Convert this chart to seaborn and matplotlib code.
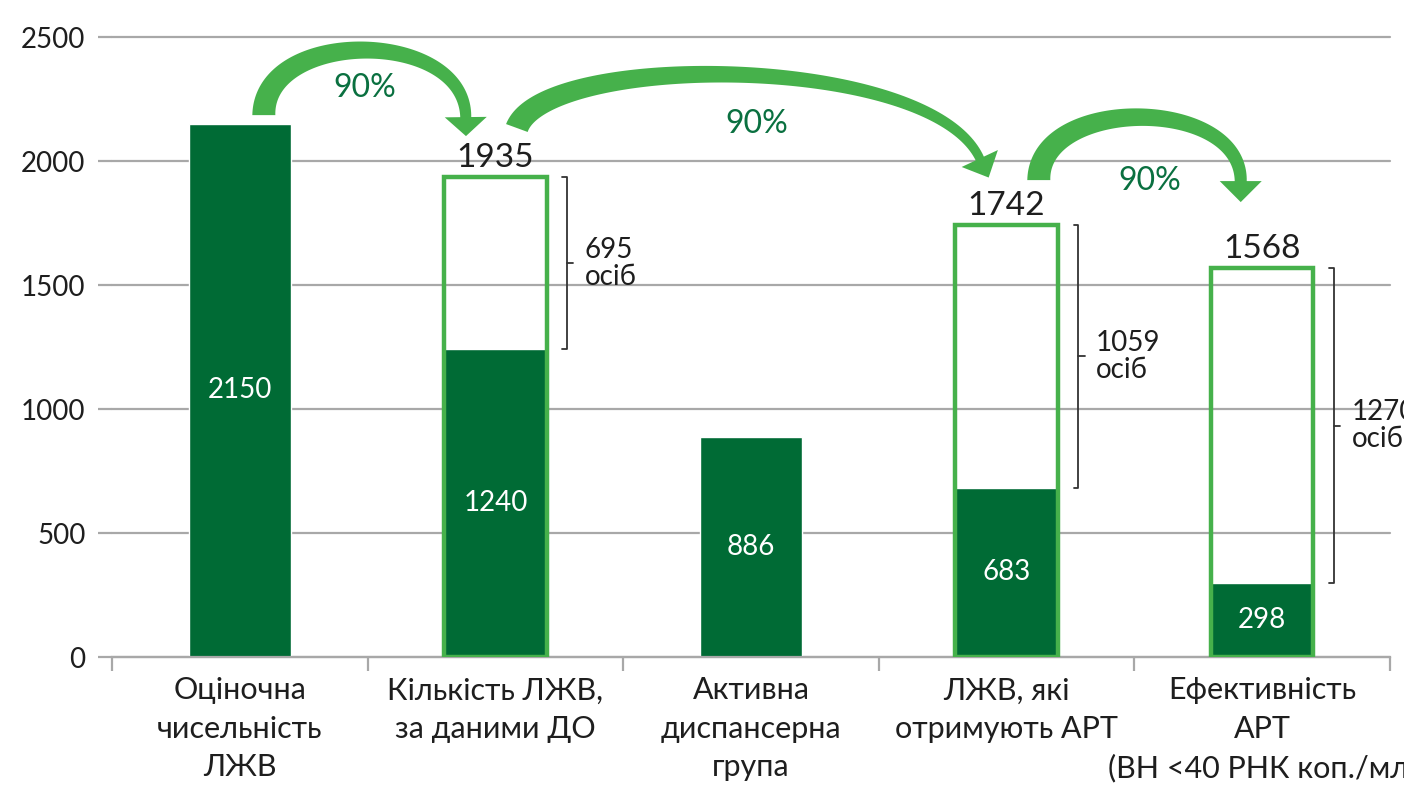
import numpy as np
import pandas as pd
import matplotlib
matplotlib.use("Agg")
import matplotlib.pyplot as plt
from matplotlib.patches import Polygon
from matplotlib.transforms import IdentityTransform
import seaborn as sns

# ---------------- data ----------------
categories = [
    "Оціночна\nчисельність\nЛЖВ",
    "Кількість ЛЖВ,\nза даними ДО",
    "Активна\nдиспансерна\nгрупа",
    "ЛЖВ, які\nотримують АРТ",
    "Ефективність\nАРТ\n(ВН <40 РНК коп./мл)",
]
filled_values = [2150, 1240, 886, 683, 298]
outline_categories = [categories[1], categories[3], categories[4]]
outline_values = [1935, 1742, 1568]
gap_labels = ["695\nосіб", "1059\nосіб", "1270\nосіб"]
arrow_labels = ["90%", "90%", "90%"]

DARK = "#006B35"
LIGHT = "#46B14B"
PCT = "#0A7040"
GRID = "#A8A8A8"
TEXT = "#1E1E1E"

sns.set_theme(style="white")
plt.rcParams["font.family"] = ["Lato", "DejaVu Sans"]

fig = plt.figure(figsize=(14.04, 7.89), dpi=100)
ax = fig.add_axes([112 / 1404, 1 - 657 / 789, (1390 - 112) / 1404, (657 - 37) / 789])

df_f = pd.DataFrame({"cat": categories, "val": filled_values})
df_o = pd.DataFrame({"cat": outline_categories, "val": outline_values})

sns.barplot(data=df_f, x="cat", y="val", order=categories, color=DARK,
            saturation=1, width=0.4, ax=ax, zorder=2)
sns.barplot(data=df_o, x="cat", y="val", order=categories, color=LIGHT,
            saturation=1, width=0.4, fill=False, linewidth=3.2, ax=ax, zorder=3)

ax.set_xlim(-0.5, 4.5)
ax.set_ylim(0, 2500)
ax.set_xlabel("")
ax.set_ylabel("")

# value labels
ax.bar_label(ax.containers[0], fmt="{:.0f}", label_type="center",
             color="white", fontsize=20)
ax.bar_label(ax.containers[1], fmt="{:.0f}", padding=3,
             color=TEXT, fontsize=24)

# axes styling
for s in ["left", "top", "right"]:
    ax.spines[s].set_visible(False)
ax.spines["bottom"].set_color(GRID)
ax.spines["bottom"].set_linewidth(1.6)
ax.set_yticks(range(0, 2501, 500))
ax.yaxis.grid(True, color=GRID, linewidth=1.6)
ax.set_axisbelow(True)
for gl in ax.get_ygridlines():
    gl.set_clip_on(False)
ax.tick_params(axis="y", left=True, length=10, width=1.6, color=GRID,
               labelsize=20, pad=9, labelcolor=TEXT)
ax.set_xticks(range(len(categories)))
ax.set_xticklabels(categories, fontsize=22, color=TEXT, linespacing=1.45)
ax.tick_params(axis="x", which="major", length=0, pad=14)
ax.set_xticks(np.arange(-0.5, len(categories), 1), minor=True)
ax.tick_params(axis="x", which="minor", bottom=True, length=10, width=1.6, color=GRID)

# brackets with gap labels
for cat, top, lab in zip(outline_categories, outline_values, gap_labels):
    i = categories.index(cat)
    low = filled_values[i]
    xb = i + 0.28
    mid = (low + top) / 2
    kw = dict(color="#333333", lw=1.3, clip_on=False, zorder=4)
    ax.plot([xb - 0.018, xb, xb, xb - 0.018], [top, top, low, low], **kw)
    ax.plot([xb, xb + 0.025], [mid, mid], **kw)
    ax.text(i + 0.35, mid, lab, ha="left", va="center", fontsize=20,
            color=TEXT, linespacing=1.05, clip_on=False)


def curved_arrow(p, w0, w1, head_w, head_len):
    pts = ax.transData.transform(np.array(p, dtype=float))
    t = np.linspace(0, 1, 120)[:, None]
    B = ((1 - t) ** 3 * pts[0] + 3 * (1 - t) ** 2 * t * pts[1]
         + 3 * (1 - t) * t ** 2 * pts[2] + t ** 3 * pts[3])
    dB = (3 * (1 - t) ** 2 * (pts[1] - pts[0]) + 6 * (1 - t) * t * (pts[2] - pts[1])
          + 3 * t ** 2 * (pts[3] - pts[2]))
    tang = dB / np.linalg.norm(dB, axis=1, keepdims=True)
    nrm = np.column_stack([-tang[:, 1], tang[:, 0]])
    w = (w0 + (w1 - w0) * t[:, 0])[:, None] / 2
    left = B + nrm * w
    right = B - nrm * w
    end, te, ne = B[-1], tang[-1], nrm[-1]
    poly = np.vstack([left, end + ne * head_w / 2, end + te * head_len,
                      end - ne * head_w / 2, right[::-1]])
    ax.add_patch(Polygon(poly, closed=True, facecolor=LIGHT, edgecolor="none",
                         transform=IdentityTransform(), clip_on=False, zorder=5))


arrows = [
    ([(0.094, 2185), (0.094, 2536), (0.880, 2536), (0.884, 2177)], 23, 11, 42, 19),
    ([(1.084, 2133), (1.193, 2440), (2.700, 2440), (2.895, 2010)], 23, 9, 40, 21),
    ([(3.126, 1923), (3.126, 2262), (3.916, 2262), (3.916, 1919)], 23, 12, 42, 21),
]
for p, w0, w1, hw, hl in arrows:
    curved_arrow(p, w0, w1, hw, hl)

pct_pos = [(0.489, 2294), (2.023, 2149), (3.560, 1919)]
for (x, y), lab in zip(pct_pos, arrow_labels):
    ax.text(x, y, lab, ha="center", va="center", fontsize=23, color=PCT, clip_on=False)

fig.savefig("out.png", dpi=100)
